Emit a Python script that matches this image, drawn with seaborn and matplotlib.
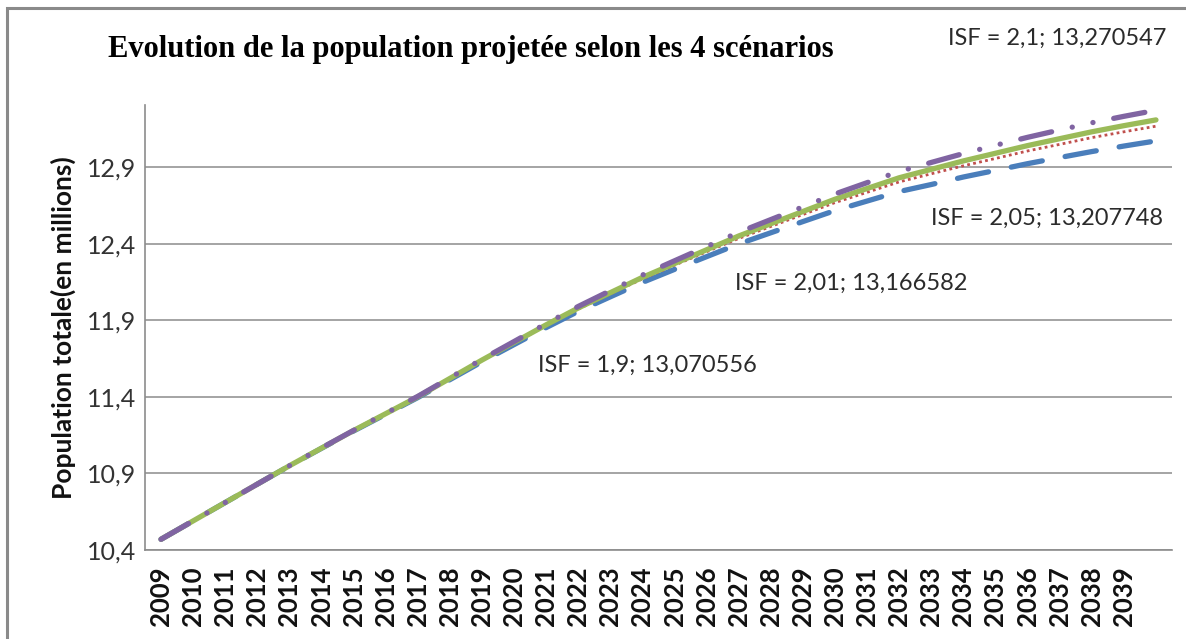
import matplotlib
matplotlib.use("Agg")
import matplotlib.pyplot as plt
from matplotlib.patches import Rectangle
import seaborn as sns
import pandas as pd

years = list(range(2009, 2041))
tick_years = list(range(2009, 2040))

isf_1_9 = [10.470, 10.590, 10.710, 10.830, 10.949, 11.064, 11.177, 11.286, 11.395, 11.512,
           11.629, 11.741, 11.852, 11.958, 12.053, 12.147, 12.232, 12.315, 12.398, 12.471,
           12.544, 12.616, 12.678, 12.740, 12.786, 12.835, 12.878, 12.922, 12.962, 13.001,
           13.037, 13.0706]
isf_2_01 = [10.470, 10.590, 10.710, 10.830, 10.950, 11.065, 11.179, 11.289, 11.398, 11.518,
            11.637, 11.751, 11.865, 11.973, 12.072, 12.170, 12.259, 12.347, 12.434, 12.512,
            12.590, 12.668, 12.735, 12.803, 12.856, 12.908, 12.956, 13.005, 13.048, 13.092,
            13.130, 13.1666]
isf_2_05 = [10.470, 10.590, 10.710, 10.830, 10.950, 11.065, 11.180, 11.290, 11.400, 11.520,
            11.640, 11.755, 11.870, 11.980, 12.080, 12.180, 12.270, 12.360, 12.450, 12.530,
            12.610, 12.690, 12.760, 12.830, 12.885, 12.940, 12.990, 13.040, 13.085, 13.130,
            13.170, 13.2077]
isf_2_1 = [10.470, 10.590, 10.710, 10.830, 10.950, 11.066, 11.181, 11.292, 11.403, 11.524,
           11.645, 11.761, 11.878, 11.990, 12.093, 12.195, 12.288, 12.381, 12.474, 12.557,
           12.640, 12.724, 12.798, 12.871, 12.930, 12.988, 13.042, 13.094, 13.142, 13.189,
           13.231, 13.2705]

y_ticks = [10.4, 10.9, 11.4, 11.9, 12.4, 12.9]
y_tick_labels = ["10,4", "10,9", "11,4", "11,9", "12,4", "12,9"]

title = "Evolution de la population projetée selon les 4 scénarios"
ylabel = "Population totale(en millions)"
annotations = ["ISF = 2,1; 13,270547", "ISF = 2,05; 13,207748",
               "ISF = 2,01; 13,166582", "ISF = 1,9; 13,070556"]

sns.set_theme(style="white")
plt.rcParams['font.family'] = ['Lato', 'DejaVu Sans']

W, H = 1186, 639
fig = plt.figure(figsize=(W / 100, H / 100), dpi=100)
ax = fig.add_axes([145 / W, 1 - 550 / H, (1172 - 145) / W, (550 - 105) / H])

series = [
    (isf_1_9, "#4A7EBB", 3.8, (6, 4.4), "round"),
    (isf_2_01, "#C0504D", 2.0, (1.0, 1.2), "butt"),
    (isf_2_05, "#9BBB59", 3.8, None, "round"),
    (isf_2_1, "#8064A2", 3.8, (6, 4, 0.02, 4, 0.02, 4), "round"),
]
for vals, color, lw, dash, cap in series:
    df = pd.DataFrame({"annee": years, "pop": vals})
    sns.lineplot(data=df, x="annee", y="pop", ax=ax, color=color, linewidth=lw)
    ln = ax.lines[-1]
    ln.set_solid_capstyle(cap)
    ln.set_dash_capstyle(cap)
    if dash is not None:
        ln.set_dashes(dash)

ax.set_xlim(2008.5, 2040.5)
ax.set_ylim(10.4, 13.305)
ax.set_xticks(tick_years)
ax.set_xticklabels([str(y) for y in tick_years], rotation=90, fontweight="bold",
                   fontsize=18.5, color="#111111")
ax.set_yticks(y_ticks)
ax.set_yticklabels(y_tick_labels, fontsize=18, color="#333333")
ax.tick_params(axis="both", length=0)
ax.tick_params(axis="x", pad=12)
ax.tick_params(axis="y", pad=6)
ax.set_xlabel("")
ax.set_ylabel("")
ax.grid(axis="y", color="#8c8c8c", linewidth=1.1)
ax.grid(axis="x", visible=False)
for s in ["top", "right"]:
    ax.spines[s].set_visible(False)
for s in ["left", "bottom"]:
    ax.spines[s].set_color("#8c8c8c")
    ax.spines[s].set_linewidth(1.2)

fig.text(63 / W, 1 - 328 / H, ylabel, rotation=90, ha="center", va="center",
         fontsize=19, fontweight="bold", color="#111111")
fig.text(471 / W, 1 - 50 / H, title, ha="center", va="center",
         fontsize=22, fontweight="bold", family=["Liberation Serif", "DejaVu Serif"],
         color="#000000")

ann_pos = [(1057, 38), (1047, 218), (851, 283), (647, 365)]
for txt, (x, y) in zip(annotations, ann_pos):
    fig.text(x / W, 1 - y / H, txt, ha="center", va="center", fontsize=17,
             color="#2b2b2b")

# outer frame (clipped on right/bottom as in the source)
fig.patches.append(Rectangle((7 / W, -0.2), 1.2, 1.2 - 8 / H,
                             transform=fig.transFigure, fill=False,
                             edgecolor="#8a8a8a", linewidth=2.2))

fig.savefig("out.png", dpi=100)
